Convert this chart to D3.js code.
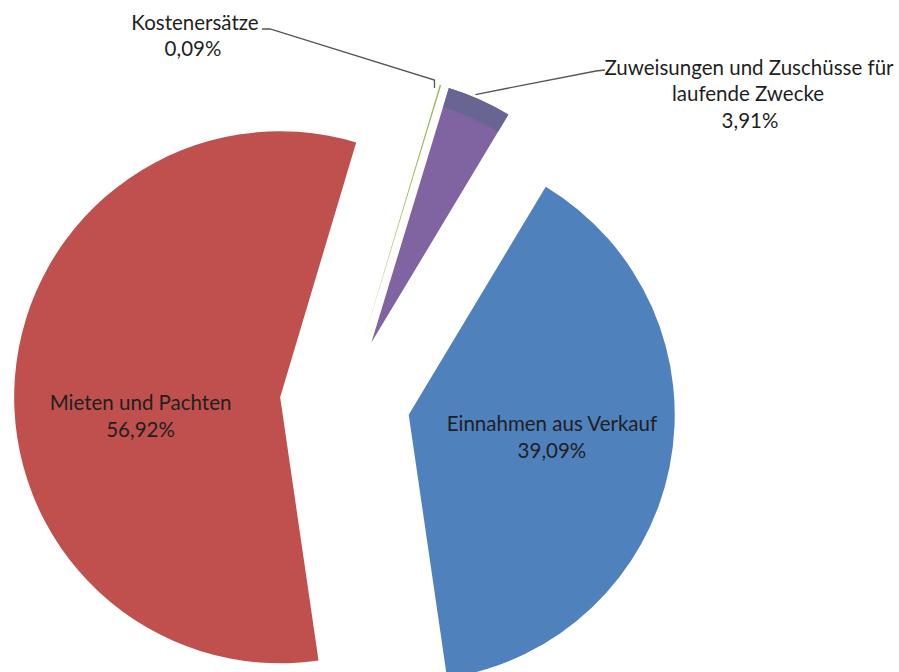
<!DOCTYPE html>
<html lang="de">
<head>
<meta charset="UTF-8">
<title>Einnahmen</title>
<script src="https://d3js.org/d3.v7.min.js"></script>
<style>
  body { margin: 0; background: #fff; }
  .lbl { font-family: Lato, "Open Sans", sans-serif; font-size: 20.5px; fill: #1f1f1f; text-anchor: middle; }
  .leader { fill: none; stroke: #555; stroke-width: 1.3px; }
</style>
</head>
<body>
<script>
// DATA
const categories = ["Einnahmen aus Verkauf", "Mieten und Pachten", "Kostenersätze", "Zuweisungen und Zuschüsse für laufende Zwecke"];
const values = [39.09, 56.92, 0.09, 3.91];
const colors = ["#4f81bd", "#c0504d", "#9bbb59", "#8064a2"];

// CONSTANTS
const width = 899, height = 672;
const cx = 345, cy = 402;
const radius = 266;
const explode = 65;
const startDeg = 31;
const labelShift = [[4, -4], [2, 31]]; // nudges for the two inside labels

const fmt = v => d3.format(".2f")(v).replace(".", ",") + "%";

const svg = d3.select("body").append("svg")
    .attr("width", width)
    .attr("height", height);

const pie = d3.pie().sort(null).value(d => d)
    .startAngle(startDeg * Math.PI / 180)
    .endAngle(startDeg * Math.PI / 180 + 2 * Math.PI);
const arcs = pie(values);

const arc = d3.arc().innerRadius(0).outerRadius(radius);
const band = d3.arc().innerRadius(radius - 20).outerRadius(radius);

// offset of each slice along its bisector
const mid = d => (d.startAngle + d.endAngle) / 2;
const off = d => [explode * Math.sin(mid(d)), -explode * Math.cos(mid(d))];

const g = svg.append("g").attr("transform", "translate(" + cx + "," + cy + ")");

const slices = g.selectAll("g.slice")
    .data(arcs)
    .join("g")
    .attr("class", "slice")
    .attr("transform", d => "translate(" + off(d) + ")");

slices.append("path")
    .attr("d", arc)
    .attr("fill", (d, i) => colors[i]);

// darker outer wall on the small purple slice (3D look)
slices.filter((d, i) => i === 3).append("path")
    .attr("d", band)
    .attr("fill", "#64658f")
    .attr("opacity", 0.85);

// inner labels
const inner = d3.arc().innerRadius(142).outerRadius(142);
[0, 1].forEach(i => {
    const d = arcs[i];
    const c = inner.centroid(d);
    const o = off(d);
    const x = c[0] + o[0] + labelShift[i][0];
    const y = c[1] + o[1] + labelShift[i][1];
    const t = g.append("text").attr("class", "lbl")
        .attr("x", x)
        .attr("y", y - 8);
    t.append("tspan").attr("x", x).text(categories[i]);
    t.append("tspan").attr("x", x).attr("dy", 27.5).text(fmt(values[i]));
});

// outer point of a slice (mid angle, on the rim), in svg coords
function rimPoint(d) {
    const o = off(d);
    const a = mid(d);
    return [cx + o[0] + radius * Math.sin(a), cy + o[1] - radius * Math.cos(a)];
}

// Kostenersätze label + leader
const pK = rimPoint(arcs[2]);
svg.append("text").attr("class", "lbl").attr("x", 195).attr("y", 30).text(categories[2]);
svg.append("text").attr("class", "lbl").attr("x", 193).attr("y", 56).text(fmt(values[2]));
svg.append("path").attr("class", "leader")
    .attr("d", d3.line()([[262, 29], [270, 29], [pK[0] - 6, pK[1] - 5], [pK[0] - 6, pK[1] + 3]]));

// Zuweisungen label + leader
const pZ = rimPoint(arcs[3]);
svg.append("text").attr("class", "lbl").attr("x", 749).attr("y", 75).text("Zuweisungen und Zuschüsse für");
svg.append("text").attr("class", "lbl").attr("x", 748).attr("y", 101).text("laufende Zwecke");
svg.append("text").attr("class", "lbl").attr("x", 750).attr("y", 128).text(fmt(values[3]));
svg.append("path").attr("class", "leader")
    .attr("d", d3.line()([[605, 70], [596, 71], [pZ[0] - 4, pZ[1] - 5]]));
</script>
</body>
</html>
